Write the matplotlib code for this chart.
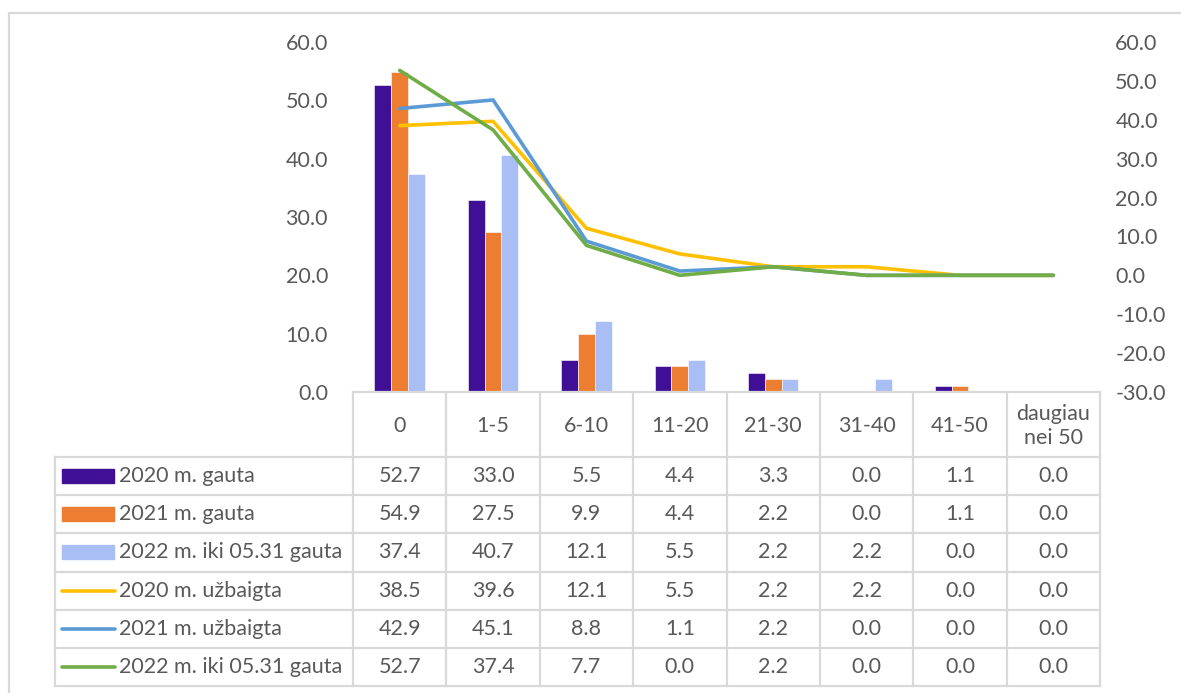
import numpy as np
import matplotlib
matplotlib.use("Agg")
import matplotlib.pyplot as plt
from matplotlib.patches import Rectangle

plt.rcParams['font.family'] = ['Lato', 'DejaVu Sans']

categories = ['0', '1-5', '6-10', '11-20', '21-30', '31-40', '41-50', 'daugiau\nnei 50']

# stulpeliai (kairė ašis)
gauta_2020 = [52.7, 33.0, 5.5, 4.4, 3.3, 0.0, 1.1, 0.0]
gauta_2021 = [54.9, 27.5, 9.9, 4.4, 2.2, 0.0, 1.1, 0.0]
gauta_2022 = [37.4, 40.7, 12.1, 5.5, 2.2, 2.2, 0.0, 0.0]
# linijos (dešinė ašis)
uzbaigta_2020 = [38.5, 39.6, 12.1, 5.5, 2.2, 2.2, 0.0, 0.0]
uzbaigta_2021 = [42.9, 45.1, 8.8, 1.1, 2.2, 0.0, 0.0, 0.0]
linija_2022 = [52.7, 37.4, 7.7, 0.0, 2.2, 0.0, 0.0, 0.0]

bar_names = ['2020 m. gauta', '2021 m. gauta', '2022 m. iki 05.31 gauta']
line_names = ['2020 m. užbaigta', '2021 m. užbaigta', '2022 m. iki 05.31 gauta']
bar_colors = ['#3F0F96', '#ED7D31', '#A9BEF5']
line_colors = ['#FFC000', '#5B9BD5', '#70AD47']

W, H = 1181, 693
fig = plt.figure(figsize=(W / 100, H / 100), dpi=100)

# pixel geometry of the plot area
px0, px1 = 353, 1100
py0, py1 = 42, 392
ax = fig.add_axes([px0 / W, 1 - py1 / H, (px1 - px0) / W, (py1 - py0) / H])
ax2 = ax.twinx()

x = np.arange(len(categories))
bw = 0.18
bars = [gauta_2020, gauta_2021, gauta_2022]
for i, vals in enumerate(bars):
    ax.bar(x + (i - 1) * bw, vals, bw, color=bar_colors[i], edgecolor='white', linewidth=0.4, zorder=2)

lines = [uzbaigta_2020, uzbaigta_2021, linija_2022]
for i, vals in enumerate(lines):
    ax2.plot(x, vals, color=line_colors[i], lw=2.6, solid_capstyle='round', zorder=3)

ax.set_xlim(-0.5, len(categories) - 0.5)
ax.set_ylim(0, 60)
ax.set_yticks(np.arange(0, 61, 10))
ax.set_yticklabels([f'{v:.1f}' for v in np.arange(0, 61, 10)])
ax2.set_ylim(-30, 60)
ax2.set_yticks(np.arange(-30, 61, 10))
ax2.set_yticklabels([f'{v:.1f}' for v in np.arange(-30, 61, 10)])
ax.set_xticks([])
for a in (ax, ax2):
    for s in a.spines.values():
        s.set_visible(False)
    a.tick_params(length=0, labelsize=15.5, labelcolor='#595959')
ax.tick_params(axis='y', pad=18)
ax2.tick_params(axis='y', pad=11)
ax.spines['bottom'].set_visible(True)
ax.spines['bottom'].set_color('#D9D9D9')
ax.spines['bottom'].set_linewidth(1.6)

# data table drawn in pixel space
tax = fig.add_axes([0, 0, 1, 1])
tax.set_xlim(0, W)
tax.set_ylim(H, 0)
tax.axis('off')
tax.set_zorder(-1)
gc = '#D9D9D9'
tc = '#595959'
fs = 15.5

# chart border
tax.plot([9, 9, W + 5], [H + 5, 13, 13], color=gc, lw=1.6)

colw = (px1 - px0) / len(categories)
xe = [px0 + i * colw for i in range(len(categories) + 1)]
hdr_bot = 457
rowh = (686 - hdr_bot) / 6
ye = [hdr_bot + i * rowh for i in range(7)]
lx = 55

for xv in xe:
    tax.plot([xv, xv], [py1, ye[-1]], color=gc, lw=1.6)
tax.plot([lx, lx], [ye[0], ye[-1]], color=gc, lw=1.6)
for yv in ye:
    tax.plot([lx, px1], [yv, yv], color=gc, lw=1.6)

for j, c in enumerate(categories):
    tax.text((xe[j] + xe[j + 1]) / 2, (py1 + hdr_bot) / 2 + 2, c, ha='center', va='center',
             fontsize=fs, color=tc, linespacing=1.25)

rows = bars + lines
names = bar_names + line_names
for r, vals in enumerate(rows):
    yc = (ye[r] + ye[r + 1]) / 2
    for j, v in enumerate(vals):
        tax.text((xe[j] + xe[j + 1]) / 2, yc, f'{v:.1f}', ha='center', va='center', fontsize=fs, color=tc)
    if r < 3:
        tax.add_patch(Rectangle((62, yc - 7), 52, 14, color=bar_colors[r]))
    else:
        tax.plot([62, 115], [yc, yc], color=line_colors[r - 3], lw=2.6, solid_capstyle='round')
    tax.text(119, yc, names[r], ha='left', va='center', fontsize=fs, color=tc)

fig.savefig('out.png', dpi=100)
